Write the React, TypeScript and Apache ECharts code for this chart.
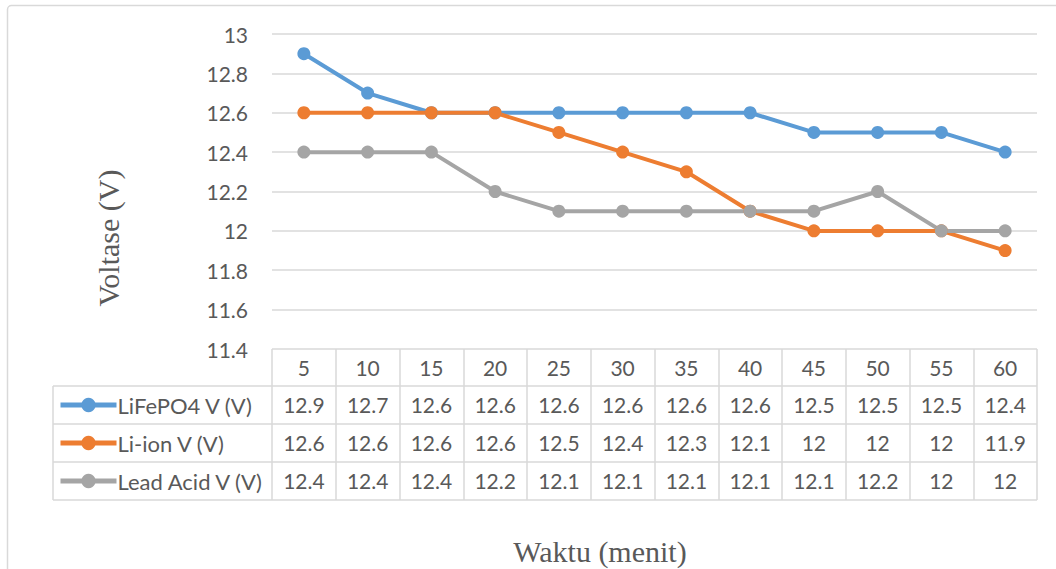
import React, { useEffect, useRef } from "react";
import * as echarts from "echarts";

const categories = ["5", "10", "15", "20", "25", "30", "35", "40", "45", "50", "55", "60"];
const lifepo4 = [12.9, 12.7, 12.6, 12.6, 12.6, 12.6, 12.6, 12.6, 12.5, 12.5, 12.5, 12.4];
const liion = [12.6, 12.6, 12.6, 12.6, 12.5, 12.4, 12.3, 12.1, 12, 12, 12, 11.9];
const leadAcid = [12.4, 12.4, 12.4, 12.2, 12.1, 12.1, 12.1, 12.1, 12.1, 12.2, 12, 12];
const seriesNames = ["LiFePO4 V (V)", "Li-ion V (V)", "Lead Acid V (V)"];
const seriesData = [lifepo4, liion, leadAcid];
const colors = ["#5B9BD5", "#ED7D31", "#A5A5A5"];

const FONT = "Lato, 'Open Sans', sans-serif";
const SERIF = "'Liberation Serif', 'DejaVu Serif', serif";
const TXT = "#595959";
const GRID = "#d9d9d9";

const W = 1056;
const H = 569;
const gridLeft = 272;
const gridRight = 19;
const gridTop = 34;
const gridBottom = 220;
const headerH = 37;
const rowH = 38;
const legendLeft = 53;
const FS = 21;

export default function App() {
  const ref = useRef<HTMLDivElement>(null);
  useEffect(() => {
    document.body.style.margin = "0";
    if (!ref.current) return;
    const chart = echarts.init(ref.current, undefined, { renderer: "svg" });
    const axisBottomY = H - gridBottom;
    const rowOffsets = [headerH, headerH + rowH, headerH + 2 * rowH];
    const tableBottom = axisBottomY + headerH + 3 * rowH;
    const gridRightX = W - gridRight;

    const xAxes: any[] = [
      {
        type: "category",
        data: categories,
        position: "bottom",
        boundaryGap: true,
        axisLine: { show: false },
        axisTick: { show: true, interval: 0, length: tableBottom - axisBottomY, lineStyle: { color: GRID, width: 1.5 } },
        axisLabel: { margin: 8, fontSize: FS, color: TXT, fontFamily: FONT, interval: 0 },
        splitLine: { show: false },
      },
    ];
    seriesData.forEach((arr, i) => {
      xAxes.push({
        type: "category",
        data: categories,
        position: "bottom",
        offset: rowOffsets[i],
        boundaryGap: true,
        axisLine: { show: false },
        axisTick: { show: false },
        axisLabel: {
          margin: 8,
          fontSize: FS,
          color: TXT,
          fontFamily: FONT,
          interval: 0,
          formatter: (_v: string, idx: number) => String(arr[idx]),
        },
        splitLine: { show: false },
      });
    });

    const hLines = [axisBottomY + headerH, axisBottomY + headerH + rowH, axisBottomY + headerH + 2 * rowH, tableBottom];
    const graphics: any[] = [
      {
        type: "rect",
        shape: { x: 7.5, y: 5.5, width: W + 40, height: H + 40, r: 4 },
        style: { fill: "none", stroke: GRID, lineWidth: 1.5 },
        silent: true,
      },
      ...hLines.map((y) => ({
        type: "line",
        shape: { x1: legendLeft, y1: y, x2: gridRightX, y2: y },
        style: { stroke: GRID, lineWidth: 1.5 },
        silent: true,
      })),
      {
        type: "line",
        shape: { x1: legendLeft, y1: hLines[0], x2: legendLeft, y2: tableBottom },
        style: { stroke: GRID, lineWidth: 1.5 },
        silent: true,
      },
      {
        type: "text",
        x: 108,
        y: 238,
        rotation: Math.PI / 2,
        style: { text: "Voltase (V)", fontSize: 30, fontFamily: SERIF, fill: TXT, align: "center", verticalAlign: "middle" },
      },
      {
        type: "text",
        x: 600,
        y: 551,
        style: { text: "Waktu (menit)", fontSize: 30, fontFamily: SERIF, fill: TXT, align: "center", verticalAlign: "middle" },
      },
    ];

    chart.setOption({
      animation: false,
      backgroundColor: "#ffffff",
      color: colors,
      grid: { left: gridLeft, right: gridRight, top: gridTop, bottom: gridBottom, containLabel: false },
      legend: {
        orient: "vertical",
        left: legendLeft + 5,
        top: hLines[0] + 8,
        padding: 0,
        itemWidth: 56,
        itemHeight: 18,
        itemGap: 16,
        data: seriesNames,
        lineStyle: { width: 5 },
        textStyle: { fontSize: 22, color: TXT, fontFamily: FONT, lineHeight: 22, padding: [0, 0, 0, -4] },
      },
      xAxis: xAxes,
      yAxis: {
        type: "value",
        min: 11.4,
        max: 13,
        interval: 0.2,
        axisLine: { show: false },
        axisTick: { show: false },
        axisLabel: { margin: 24, fontSize: FS, color: TXT, fontFamily: FONT },
        splitLine: { lineStyle: { color: GRID, width: 1.5 } },
      },
      graphic: graphics,
      series: seriesData.map((arr, i) => ({
        name: seriesNames[i],
        type: "line",
        data: arr,
        xAxisIndex: 0,
        symbol: "circle",
        symbolSize: 13,
        lineStyle: { width: 4, color: colors[i] },
        itemStyle: { color: colors[i] },
      })),
    });
    return () => chart.dispose();
  }, []);
  return <div ref={ref} style={{ width: W, height: H }} />;
}
